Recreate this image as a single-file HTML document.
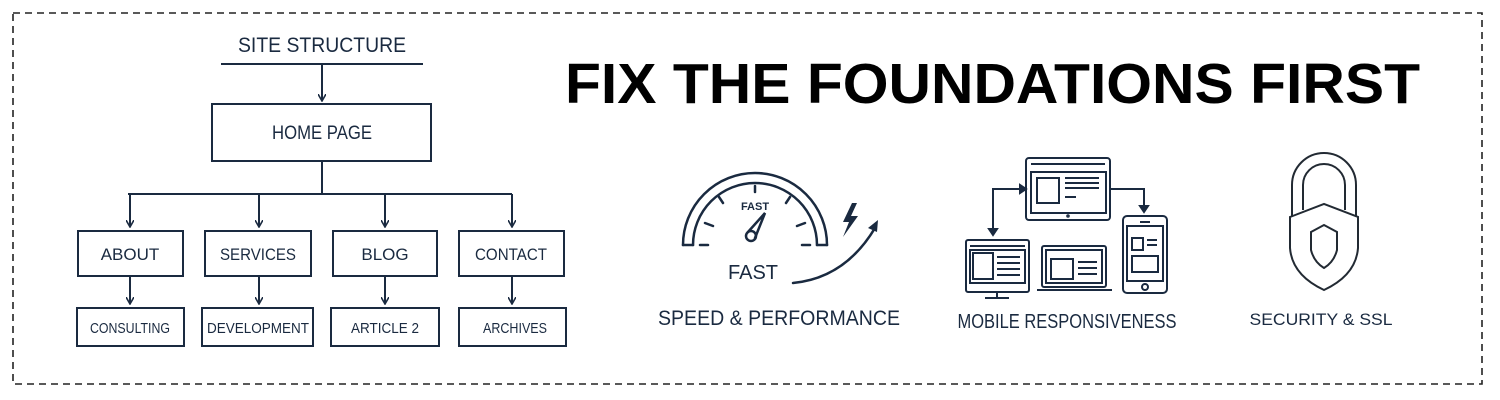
<!DOCTYPE html>
<html><head><meta charset="utf-8"><style>
html,body{margin:0;padding:0;background:#fff;width:1500px;height:400px;overflow:hidden}
svg{display:block}
text{font-family:"Liberation Sans",sans-serif}
</style></head><body>
<svg width="1500" height="400" viewBox="0 0 1500 400" xmlns="http://www.w3.org/2000/svg">
<defs>
<marker id="ah" markerWidth="8" markerHeight="8" refX="7" refY="4" orient="auto" markerUnits="userSpaceOnUse">
<path d="M0,0 L7,4 L0,8" fill="none" stroke="#1a2a40" stroke-width="1.6"/>
</marker>
</defs>
<rect x="13" y="13" width="1469" height="371" fill="none" stroke="#222" stroke-width="1.6" stroke-dasharray="7,5"/>

<g stroke="#1a2a40" stroke-width="2" fill="none">
<line x1="221" y1="64" x2="423" y2="64"/>
<line x1="322" y1="64" x2="322" y2="101" marker-end="url(#ah)"/>
<rect x="212" y="104" width="219" height="57"/>
<line x1="322" y1="161" x2="322" y2="194"/>
<line x1="128" y1="194" x2="512" y2="194"/>
<line x1="130" y1="194" x2="130" y2="227" marker-end="url(#ah)"/>
<line x1="259" y1="194" x2="259" y2="227" marker-end="url(#ah)"/>
<line x1="385" y1="194" x2="385" y2="227" marker-end="url(#ah)"/>
<line x1="512" y1="194" x2="512" y2="227" marker-end="url(#ah)"/>
<rect x="78" y="231" width="105" height="45"/>
<rect x="205" y="231" width="106" height="45"/>
<rect x="333" y="231" width="104" height="45"/>
<rect x="459" y="231" width="105" height="45"/>
<line x1="130" y1="276" x2="130" y2="304" marker-end="url(#ah)"/>
<line x1="259" y1="276" x2="259" y2="304" marker-end="url(#ah)"/>
<line x1="385" y1="276" x2="385" y2="304" marker-end="url(#ah)"/>
<line x1="512" y1="276" x2="512" y2="304" marker-end="url(#ah)"/>
<rect x="77" y="308" width="107" height="38"/>
<rect x="202" y="308" width="111" height="38"/>
<rect x="331" y="308" width="108" height="38"/>
<rect x="459" y="308" width="107" height="38"/>
</g>
<g fill="#1a2a40" text-anchor="middle" font-size="19">
<text x="322" y="52" textLength="168" lengthAdjust="spacingAndGlyphs" font-size="21">SITE STRUCTURE</text>
<text x="322" y="139" textLength="100" lengthAdjust="spacingAndGlyphs">HOME PAGE</text>
<text x="130" y="260" font-size="17">ABOUT</text>
<text x="258" y="260" font-size="17" textLength="76" lengthAdjust="spacingAndGlyphs">SERVICES</text>
<text x="385" y="260" font-size="17">BLOG</text>
<text x="511" y="260" font-size="17" textLength="72" lengthAdjust="spacingAndGlyphs">CONTACT</text>
<text x="130" y="333" font-size="15" textLength="80" lengthAdjust="spacingAndGlyphs">CONSULTING</text>
<text x="258" y="333" font-size="15" textLength="102" lengthAdjust="spacingAndGlyphs">DEVELOPMENT</text>
<text x="385" y="333" font-size="15" textLength="68" lengthAdjust="spacingAndGlyphs">ARTICLE 2</text>
<text x="515" y="333" font-size="15" textLength="64" lengthAdjust="spacingAndGlyphs">ARCHIVES</text>
</g>

<text x="565" y="103" font-size="57" font-weight="bold" fill="#000" textLength="855" lengthAdjust="spacingAndGlyphs">FIX THE FOUNDATIONS FIRST</text>

<!-- speedometer -->
<g stroke="#1a2a40" stroke-width="2.5" fill="none" stroke-linecap="round">
<path d="M683,245 A72,72 0 0 1 827,245"/>
<path d="M693,245 A62,62 0 0 1 817,245"/>
<line x1="683" y1="245" x2="693" y2="245"/>
<line x1="817" y1="245" x2="827" y2="245"/>
<line x1="700" y1="245" x2="708" y2="245"/>
<line x1="802" y1="245" x2="810" y2="245"/>
<line x1="705" y1="223" x2="713" y2="226"/>
<line x1="805" y1="223" x2="797" y2="226"/>
<line x1="719" y1="197" x2="723" y2="203"/>
<line x1="790" y1="197" x2="786" y2="203"/>
<line x1="755" y1="186" x2="755" y2="192"/>
<circle cx="751" cy="236" r="5"/>
<path d="M748,232 L765,213 L755,238"/>
<path d="M793,283 Q845,278 875,228"/>
</g>
<path d="M878,220 L868,228 L877,232 Z" fill="#1a2a40"/>
<path d="M852,203 L843,222 L849,222 L843,237 L858,216 L851,216 L857,203 Z" fill="#1a2a40"/>
<g fill="#1a2a40" text-anchor="middle">
<text x="755" y="210" font-size="11" font-weight="bold">FAST</text>
<text x="753" y="279" font-size="20">FAST</text>
<text x="779" y="325" font-size="21" textLength="242" lengthAdjust="spacingAndGlyphs">SPEED &amp; PERFORMANCE</text>
<text x="1067" y="328" font-size="20" textLength="219" lengthAdjust="spacingAndGlyphs">MOBILE RESPONSIVENESS</text>
<text x="1321" y="325" font-size="17" textLength="143" lengthAdjust="spacingAndGlyphs">SECURITY &amp; SSL</text>
</g>

<!-- devices -->
<g stroke="#1a2a40" stroke-width="2" fill="none">
<rect x="1026" y="158" width="84" height="62" rx="3"/>
<line x1="1031" y1="164" x2="1105" y2="164"/>
<rect x="1031" y="172" width="75" height="41"/>
<rect x="1037" y="178" width="22" height="25"/>
<line x1="1065" y1="178" x2="1099" y2="178"/><line x1="1065" y1="183" x2="1099" y2="183"/><line x1="1065" y1="188" x2="1099" y2="188"/><line x1="1065" y1="197" x2="1076" y2="197"/>
<circle cx="1068" cy="216" r="0.8"/>
<path d="M1022,189 L993,189 L993,231"/>
<path d="M993,235 l-4,-6 h8 z" fill="#1a2a40"/>
<path d="M1026,189 l-6,-4 v8 z" fill="#1a2a40"/>
<path d="M1111,189 L1144,189 L1144,207"/>
<path d="M1144,212 l-4,-6 h8 z" fill="#1a2a40"/>
<rect x="966" y="240" width="63" height="52" rx="2"/>
<line x1="970" y1="246" x2="1025" y2="246"/>
<rect x="970" y="250" width="55" height="33"/>
<rect x="973" y="253" width="20" height="26"/>
<line x1="997" y1="257" x2="1020" y2="257"/><line x1="997" y1="263" x2="1020" y2="263"/><line x1="997" y1="269" x2="1020" y2="269"/><line x1="997" y1="275" x2="1020" y2="275"/>
<line x1="997" y1="292" x2="997" y2="297"/><line x1="985" y1="298" x2="1009" y2="298"/>
<rect x="1042" y="246" width="64" height="41" rx="2"/>
<rect x="1046" y="250" width="56" height="33"/>
<rect x="1051" y="259" width="22" height="20"/>
<line x1="1078" y1="262" x2="1097" y2="262"/><line x1="1078" y1="268" x2="1097" y2="268"/><line x1="1078" y1="274" x2="1097" y2="274"/>
<line x1="1037" y1="290" x2="1112" y2="290"/>
<rect x="1123" y="216" width="44" height="77" rx="4"/>
<line x1="1140" y1="222" x2="1150" y2="222"/>
<rect x="1127" y="226" width="36" height="55"/>
<rect x="1132" y="238" width="11" height="12"/>
<line x1="1147" y1="240" x2="1157" y2="240"/><line x1="1147" y1="245" x2="1157" y2="245"/>
<rect x="1132" y="256" width="26" height="16"/>
<circle cx="1145" cy="287" r="3"/>
</g>

<!-- lock -->
<g stroke="#222a33" stroke-width="2" fill="none">
<path d="M1292,216 L1292,185 A32,32 0 0 1 1356,185 L1356,216"/>
<path d="M1303,210 L1303,185 A21,21 0 0 1 1345,185 L1345,210"/>
<path d="M1290,217 L1324,204 L1358,217 L1358,248 Q1356,275 1324,290 Q1292,275 1290,248 Z"/>
<path d="M1311,232 L1324,225 L1337,232 L1337,250 Q1334,262 1324,268 Q1314,262 1311,250 Z"/>
</g>
</svg>
</body></html>
